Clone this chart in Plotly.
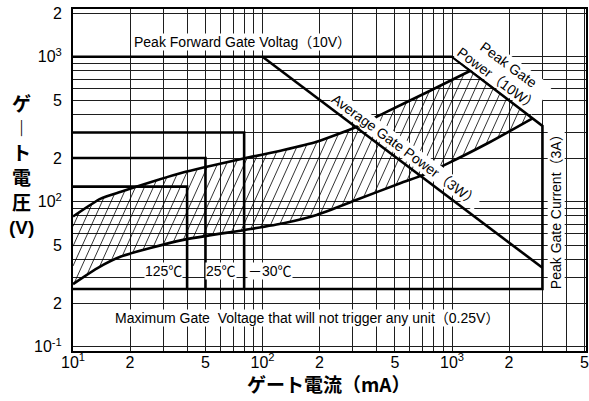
import numpy as np
import plotly.graph_objects as go

# ---------------------------------------------------------------- data
# Gate trigger region boundaries: gate current (mA) / gate voltage (V)
upper_ma = [10, 14, 17.9, 37.6, 80.5, 129, 193, 314, 435, 743, 1250]
upper_v = [0.79, 1.05, 1.17, 1.58, 1.99, 2.27, 2.59, 3.29, 4.07, 5.71, 8.0]
lower_ma = [10, 13.4, 17.9, 37.6, 80.5, 129, 193, 314, 533, 706, 970, 1560, 2660]
lower_v = [0.27, 0.347, 0.418, 0.543, 0.638, 0.71, 0.81, 1.03, 1.34, 1.53, 1.86, 2.55, 3.76]

# Ratings
min_current_ma = 10
peak_fwd_voltage_v = 10.0
peak_power_w = 10.0
peak_current_ma = 3000
no_trigger_v = 0.25

# Average gate power line (end points)
avg_power_ma = [100, 3000]
avg_power_v = [10.0, 0.35]

# Gate trigger current / voltage per junction temperature
temp_labels = ["125℃", "25℃", "－30℃"]
trig_ma = [40, 50, 80]
trig_v = [1.27, 2.0, 3.0]

# Tick labels
x_tickvals = [10, 20, 50, 100, 200, 500, 1000, 2000, 5000]
x_ticktext = ["10<sup>1</sup>", "2", "5", "10<sup>2</sup>", "2", "5", "10<sup>3</sup>", "2", "5"]
y_tickvals = [0.1, 0.2, 0.5, 1, 2, 5, 10, 20]
y_ticktext = ["10<sup>-1</sup>", "2", "5", "10<sup>2</sup>", "2", "5", "10<sup>3</sup>", "2"]

# ---------------------------------------------------------------- geometry
W, H = 589, 401
ML, MR, MT, MB = 73, 0, 9, 50
PW, PH = W - ML - MR, H - MT - MB
X_RANGE = [1.0, 3.707]
Y_RANGE = [-1.03, 1.329]
DX = PW / (X_RANGE[1] - X_RANGE[0])
DY = PH / (Y_RANGE[1] - Y_RANGE[0])

FONT = "Liberation Sans, Arial, Noto Sans CJK JP, sans-serif"
JFONT = "Noto Sans CJK JP, sans-serif"


def paper_x(x):
    return (x - ML) / PW


def paper_y(y):
    return (H - MB - y) / PH


def hatch(poly_i, poly_v, step=9.0, steep=2.2):
    """Diagonal hatch segments clipped to a polygon given in data units."""
    X = np.log10(np.asarray(poly_i, float)) * DX
    Y = np.log10(np.asarray(poly_v, float)) * DY
    f = X - Y / steep
    xs, ys = [], []
    n = len(X)
    for c in np.arange(f.min() + step / 2, f.max(), step):
        pts = []
        for k in range(n):
            a, b = k, (k + 1) % n
            fa, fb = f[a] - c, f[b] - c
            if (fa < 0) != (fb < 0):
                t = fa / (fa - fb)
                pts.append((X[a] + t * (X[b] - X[a]), Y[a] + t * (Y[b] - Y[a])))
        pts.sort(key=lambda p: p[1])
        for p, q in zip(pts[0::2], pts[1::2]):
            xs += [10 ** (p[0] / DX), 10 ** (q[0] / DX), None]
            ys += [10 ** (p[1] / DY), 10 ** (q[1] / DY), None]
    return xs, ys


fig = go.Figure()

# hatched trigger region: upper curve, peak power line, lower curve back
poly_i = upper_ma + lower_ma[::-1]
poly_v = upper_v + lower_v[::-1]
hx, hy = hatch(poly_i, poly_v)
fig.add_trace(go.Scatter(x=hx, y=hy, mode="lines",
                         line=dict(color="black", width=0.8), hoverinfo="skip"))

thick = dict(color="black", width=2.6)

# boundary curves
fig.add_trace(go.Scatter(x=upper_ma, y=upper_v, mode="lines",
                         line=dict(thick, shape="spline", smoothing=0.6)))
fig.add_trace(go.Scatter(x=lower_ma, y=lower_v, mode="lines",
                         line=dict(thick, shape="spline", smoothing=0.6)))

# rating envelope
knee_ma = peak_power_w / peak_fwd_voltage_v * 1000
fig.add_trace(go.Scatter(
    x=[min_current_ma, knee_ma, peak_current_ma, peak_current_ma, min_current_ma],
    y=[peak_fwd_voltage_v, peak_fwd_voltage_v, peak_power_w / (peak_current_ma / 1000),
       no_trigger_v, no_trigger_v],
    mode="lines", line=thick))

# average gate power
fig.add_trace(go.Scatter(x=avg_power_ma, y=avg_power_v, mode="lines", line=thick))

# trigger boxes
for ma, v in zip(trig_ma, trig_v):
    fig.add_trace(go.Scatter(x=[min_current_ma, ma, ma], y=[v, v, no_trigger_v],
                             mode="lines", line=thick))

# ---------------------------------------------------------------- axes
x_minor = [m * d for d in (10, 100, 1000) for m in range(1, 10) if m * d <= 5000]
y_minor = [round(m * d, 3) for d in (0.1, 1) for m in range(1, 10)] + [10, 20]

grid = dict(showgrid=True, gridcolor="#1e1e1e", gridwidth=1)
axis_common = dict(type="log", showline=True, linecolor="black", linewidth=2,
                   mirror=True, ticks="", zeroline=False, tickmode="array",
                   ticklabeloverflow="allow",
                   tickfont=dict(family=FONT, size=16, color="black"), **grid)

fig.update_xaxes(range=X_RANGE, tickvals=x_tickvals, ticktext=x_ticktext,
                 ticklabelstandoff=-4,
                 minor=dict(tickmode="array", tickvals=x_minor, ticks="", **grid),
                 **axis_common)
fig.update_yaxes(range=Y_RANGE, tickvals=y_tickvals, ticktext=y_ticktext,
                 ticklabelstandoff=6,
                 minor=dict(tickmode="array", tickvals=y_minor, ticks="", **grid),
                 **axis_common)

# ---------------------------------------------------------------- text
ann = []


def label(text, x, y, size=14, angle=0, bg="white", family=FONT, bold=False):
    ann.append(dict(text=f"<b>{text}</b>" if bold else text,
                    x=paper_x(x), y=paper_y(y), xref="paper", yref="paper",
                    xanchor="center", yanchor="middle",
                    showarrow=False, textangle=angle, bgcolor=bg, borderpad=0,
                    font=dict(family=family, size=size, color="black")))


label("Peak Forward Gate Voltag（10V）", 243, 42)
label("Maximum Gate  Voltage that will not trigger any unit（0.25V）", 308, 318)
label("Average Gate Power（3W）", 407, 150, angle=36.4)
label("Peak Gate<br>Power（10W）", 506, 72, angle=36.5)
label("Peak Gate Current（3A）", 559, 208, angle=-90)
for t, xc in zip(temp_labels, [164, 222, 271]):
    label(t, xc, 271)

# axis titles (y title set vertically, one character per line)
label("ゲート電流（mA）", 330, 383, size=19, bg=None, family=JFONT, bold=True)
label("ゲ<br>︱<br>ト<br>電<br>圧", 21, 152, size=19, bg=None, family=JFONT, bold=True)
label("(V)", 21, 227, size=19, bg=None, family=FONT, bold=True)

# chart heading, mostly above the page edge
ann.append(dict(text="<b>ゲート特性</b>", x=paper_x(68), y=paper_y(5), xref="paper",
                yref="paper", xanchor="left", yanchor="bottom", showarrow=False,
                font=dict(family=JFONT, size=20, color="black")))

fig.update_layout(width=W, height=H, margin=dict(l=ML, r=MR, t=MT, b=MB),
                  paper_bgcolor="white", plot_bgcolor="white",
                  showlegend=False, annotations=ann)

fig.write_html("out.html")
